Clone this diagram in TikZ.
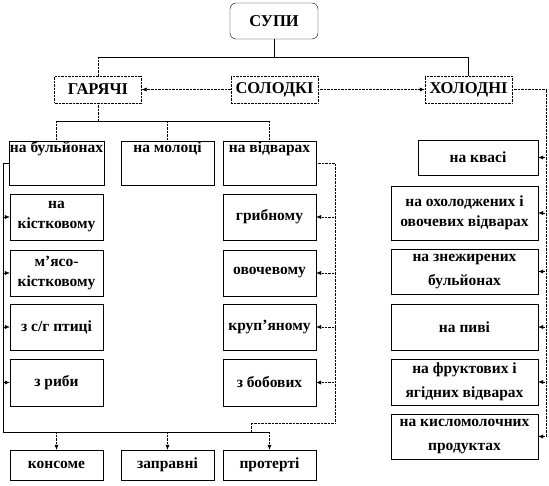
\documentclass[tikz,border=0pt]{standalone}
\usepackage{fontspec}
\setmainfont{Liberation Serif}
\usetikzlibrary{arrows.meta}

\tikzset{
  box/.style={draw, thin, inner sep=1pt, align=center, font=\bfseries\fontsize{15.5}{20}\selectfont},
  headbox/.style={box, densely dotted, minimum width=87pt, minimum height=27pt, font=\bfseries\fontsize{16.5}{18}\selectfont},
  topbox/.style={box, minimum width=93pt, text height=10pt, text depth=32pt},
  sidebox/.style={box, minimum width=93pt, minimum height=46pt},
  coldbox/.style={box, minimum width=147pt, minimum height=46pt},
  arr/.style={-{Latex[length=5pt,width=4pt]}}
}

\begin{document}
\begin{tikzpicture}[x=1pt, y=-1pt]
\useasboundingbox (0,0) rectangle (549,485);

% Define coordinates
\coordinate (mainBus) at (274,57);
\coordinate (hotBus) at (98,121);
\coordinate (leftBus) at (3,432);
\coordinate (rightBus) at (335,423);
\coordinate (bottomBus) at (251,432);
\coordinate (coldBus) at (546,436.5);

% Top level
\node[headbox, solid, rounded corners=6pt, minimum width=88pt, minimum height=36pt] (soups) at (274,21) {СУПИ};
\node[headbox] (hot) at (98,89.5) {ГАРЯЧІ};
\node[headbox] (sweet) at (274.5,89.5) {СОЛОДКІ};
\node[headbox] (cold) at (468.5,89.5) {ХОЛОДНІ};

% Hot soups
\node[topbox] (broth) at (56.5,163) {на бульйонах};
\node[topbox] (milk) at (167.5,163) {на молоці};
\node[topbox] (decoct) at (269.5,163) {на відварах};

% Broth column
\node[sidebox] (bone) at (56.5,217) {на\\кістковому};
\node[sidebox] (meat) at (56.5,273) {м’ясо-\\кістковому};
\node[sidebox] (poultry) at (56.5,327) {з с/г птиці};
\node[sidebox, minimum height=47pt] (fish) at (56.5,382.5) {з риби};

% Decoction column
\node[sidebox] (mushroom) at (269.5,217) {грибному};
\node[sidebox] (veg) at (269.5,273) {овочевому};
\node[sidebox] (cereal) at (269.5,327) {круп’яному};
\node[sidebox, minimum height=47pt] (beans) at (269.5,382.5) {з бобових};

% Bottom row
\node[sidebox, minimum height=30pt] (consomme) at (56.5,465) {консоме};
\node[sidebox, minimum height=30pt] (filled) at (167.5,465) {заправні};
\node[sidebox, minimum height=30pt] (puree) at (269.5,465) {протерті};

% Cold soups
\node[box, minimum width=120pt, minimum height=35pt] (kvass) at (478,157.5) {на квасі};
\node[coldbox, minimum height=54pt] (chilled) at (464.5,213) {на охолоджених і\\овочевих відварах};
\node[coldbox, minimum height=45pt, font=\bfseries\fontsize{15.5}{24}\selectfont] (skimmed) at (464.5,271.5) {на знежирених\\бульйонах};
\node[coldbox] (beer) at (464.5,327) {на пиві};
\node[coldbox, font=\bfseries\fontsize{15.5}{24}\selectfont] (fruit) at (464.5,382) {на фруктових  і\\ягідних  відварах};
\node[coldbox, minimum height=45pt, font=\bfseries\fontsize{15.5}{24}\selectfont] (dairy) at (464.5,436.5) {на кисломолочних\\продуктах};

% Main tree
\draw (soups.south) -- (mainBus);
\draw (mainBus) -| (cold.north);
\draw (mainBus) -- (hot.north |- mainBus);
\draw[densely dotted] (hot.north |- mainBus) -- (hot.north);
\draw[densely dotted, arr] (sweet.west) -- (hot.east);
\draw[densely dotted, arr] (sweet.east) -- (cold.west);

% Hot branch
\draw[densely dotted] (hot.south) -- (hotBus);
\draw (broth.north |- hotBus) -- (decoct.north |- hotBus);
\foreach \n in {broth, milk, decoct}
  \draw[densely dotted] (\n.north |- hotBus) -- (\n.north);

% Left bus with arrows
\draw (broth.west) -| (leftBus);
\foreach \n in {bone, meat, poultry, fish}
  \draw[arr] (\n.west -| leftBus) -- (\n.west);

% Right bus with arrows
\draw[densely dotted] (decoct.east) -| (rightBus) -| (bottomBus);
\foreach \n in {mushroom, veg, cereal, beans}
  \draw[densely dotted, arr] (\n.east -| rightBus) -- (\n.east);

% Bottom bus
\draw (leftBus) -- (puree.north |- leftBus);
\foreach \n in {consomme, filled, puree}
  \draw[densely dotted, arr] (\n.north |- leftBus) -- (\n.north);

% Cold bus with arrows
\draw[densely dotted] (cold.east) -| (coldBus);
\foreach \n in {kvass, chilled, skimmed, beer, fruit, dairy}
  \draw[densely dotted, arr] (\n.east -| coldBus) -- (\n.east);

\end{tikzpicture}
\end{document}
